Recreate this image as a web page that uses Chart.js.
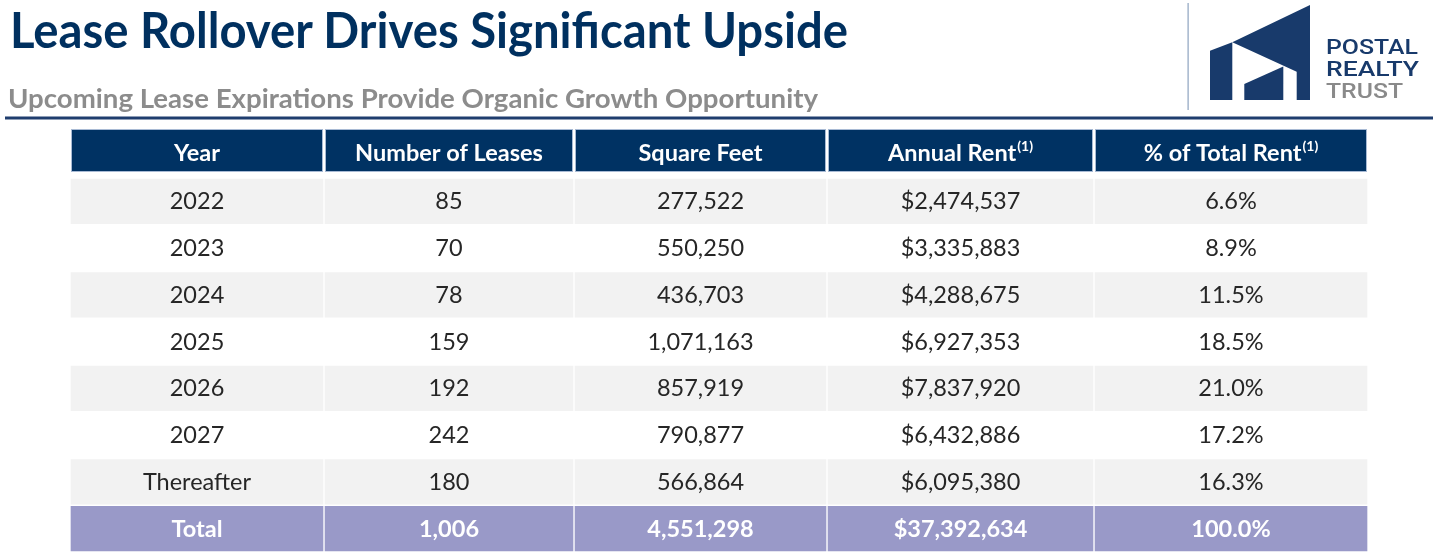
<!DOCTYPE html>
<html>
<head>
<meta charset="utf-8">
<script src="https://cdn.jsdelivr.net/npm/chart.js@4.4.1/dist/chart.umd.min.js"></script>
<style>
  html, body { margin: 0; padding: 0; background: #ffffff; }
  #wrap { position: relative; width: 1453px; height: 553px; overflow: hidden; }
  #c { position: absolute; left: 0; top: 0; width: 1453px; height: 553px; }
  #hdr { position: absolute; left: 0; top: 0; width: 1453px; height: 130px; pointer-events: none; }
</style>
</head>
<body>
<div id="wrap">
  <canvas id="c" width="1453" height="553"></canvas>
  <svg id="hdr" width="1453" height="130" viewBox="0 0 1453 130" xmlns="http://www.w3.org/2000/svg">
    <text x="10" y="48" font-family="Lato" font-weight="700" font-size="50" fill="#00305f"
          textLength="838" lengthAdjust="spacingAndGlyphs">Lease Rollover Drives Significant Upside</text>
    <text x="8" y="108" font-family="Lato" font-weight="700" font-size="27" fill="#8c8c8c"
          textLength="810" lengthAdjust="spacingAndGlyphs">Upcoming Lease Expirations Provide Organic Growth Opportunity</text>
    <rect x="5" y="116.5" width="1428" height="3" fill="#1f3d6e"/>
    <rect x="1187.5" y="3" width="1.2" height="107" fill="#8ea3bf"/>
    <polygon points="1210,50.7 1232.3,42.3 1232.3,100 1210,100" fill="#183a6b"/>
    <polygon points="1232.3,42.3 1310,5 1310,100 1296.7,100 1296.7,71.7" fill="#183a6b"/>
    <polygon points="1244.3,84 1283.3,66.5 1283.3,100 1244.3,100" fill="#183a6b"/>
    <text x="1326" y="54.3" font-family="Roboto" font-weight="500" font-size="20" fill="#183a6b"
          textLength="92" lengthAdjust="spacingAndGlyphs">POSTAL</text>
    <text x="1326" y="76" font-family="Roboto" font-weight="500" font-size="20" fill="#183a6b"
          textLength="93" lengthAdjust="spacingAndGlyphs">REALTY</text>
    <text x="1326" y="97.7" font-family="Roboto" font-weight="500" font-size="20" fill="#8a8a8a"
          textLength="77" lengthAdjust="spacingAndGlyphs">TRUST</text>
  </svg>
</div>
<script>
// ---------------- data ----------------
const headers     = ['Year', 'Number of Leases', 'Square Feet', 'Annual Rent', '% of Total Rent'];
const headerNotes = ['', '', '', '(1)', '(1)'];
const years       = ['2022', '2023', '2024', '2025', '2026', '2027', 'Thereafter'];
const leases      = [85, 70, 78, 159, 192, 242, 180];
const squareFeet  = [277522, 550250, 436703, 1071163, 857919, 790877, 566864];
const annualRent  = [2474537, 3335883, 4288675, 6927353, 7837920, 6432886, 6095380];
const pctOfRent   = [6.6, 8.9, 11.5, 18.5, 21.0, 17.2, 16.3];
const totalLabel  = 'Total';
const totalRow    = [1006, 4551298, 37392634, 100.0];

// ---------------- layout / style ----------------
const colWidths = [254, 250, 253, 267, 274];   // relative column widths
const edges = colWidths.reduce((a, w) => { a.push(a[a.length - 1] + w); return a; }, [0]);
const navy = '#003263', headBorder = '#a8bad4', grayRow = '#f2f2f2', totalColor = '#9999c8';
const bodyFont = 23.5, noteFont = 14;

const rowLabels = years.concat([totalLabel]);
const fmt = n => n.toLocaleString('en-US');
const cellText = rowLabels.map((lab, i) => {
  if (i < years.length) {
    return [lab, fmt(leases[i]), fmt(squareFeet[i]), '$' + fmt(annualRent[i]), pctOfRent[i].toFixed(1) + '%'];
  }
  return [lab, fmt(totalRow[0]), fmt(totalRow[1]), '$' + fmt(totalRow[2]), totalRow[3].toFixed(1) + '%'];
});
const rowColor = i => (i === rowLabels.length - 1) ? totalColor : (i % 2 === 0 ? grayRow : '#ffffff');

const datasets = headers.map((h, j) => ({
  label: h,
  data: rowLabels.map(() => [edges[j], edges[j + 1]]),
  backgroundColor: rowLabels.map((_, i) => rowColor(i)),
  borderColor: '#ffffff',
  borderWidth: 1,
  borderSkipped: false,
  grouped: false,
  barPercentage: 1,
  categoryPercentage: 1
}));

const tablePlugin = {
  id: 'tableText',
  afterDatasetsDraw(chart) {
    const ctx = chart.ctx;
    const xs = chart.scales.x;
    const area = chart.chartArea;
    ctx.save();
    ctx.textAlign = 'center';
    ctx.textBaseline = 'middle';
    // body text
    chart.data.datasets.forEach((ds, j) => {
      const meta = chart.getDatasetMeta(j);
      meta.data.forEach((bar, i) => {
        const isTotal = i === rowLabels.length - 1;
        ctx.font = (isTotal ? '700 ' : '400 ') + bodyFont + 'px Lato';
        ctx.fillStyle = isTotal ? '#ffffff' : '#262626';
        ctx.fillText(cellText[i][j], (bar.x + bar.base) / 2, bar.y + 0.5);
      });
    });
    // header row
    const top = area.top - 49, h = 43;
    headers.forEach((lab, j) => {
      const x0 = xs.getPixelForValue(edges[j]) + 1;
      const x1 = xs.getPixelForValue(edges[j + 1]) - 1;
      ctx.fillStyle = headBorder;
      ctx.fillRect(x0, top, x1 - x0, h);
      ctx.fillStyle = navy;
      ctx.fillRect(x0 + 1, top + 1, x1 - x0 - 2, h - 2);
      ctx.fillStyle = '#ffffff';
      ctx.font = '700 ' + bodyFont + 'px Lato';
      const wMain = ctx.measureText(lab).width;
      ctx.font = '700 ' + noteFont + 'px Lato';
      const wNote = headerNotes[j] ? ctx.measureText(headerNotes[j]).width + 1 : 0;
      const sx = (x0 + x1) / 2 - (wMain + wNote) / 2;
      ctx.textAlign = 'left';
      ctx.font = '700 ' + bodyFont + 'px Lato';
      ctx.fillText(lab, sx, top + h / 2 + 2.5);
      if (headerNotes[j]) {
        ctx.font = '700 ' + noteFont + 'px Lato';
        ctx.fillText(headerNotes[j], sx + wMain + 1, top + h / 2 - 4.5);
      }
      ctx.textAlign = 'center';
    });
    ctx.restore();
  }
};

new Chart(document.getElementById('c'), {
  type: 'bar',
  data: { labels: rowLabels, datasets },
  options: {
    indexAxis: 'y',
    responsive: false,
    animation: false,
    layout: { padding: { left: 70, right: 85, top: 178, bottom: 1 } },
    plugins: { legend: { display: false }, tooltip: { enabled: false }, title: { display: false } },
    scales: {
      x: { type: 'linear', min: 0, max: edges[edges.length - 1], display: false },
      y: { type: 'category', display: false, offset: true }
    }
  },
  plugins: [tablePlugin]
});
</script>
</body>
</html>
